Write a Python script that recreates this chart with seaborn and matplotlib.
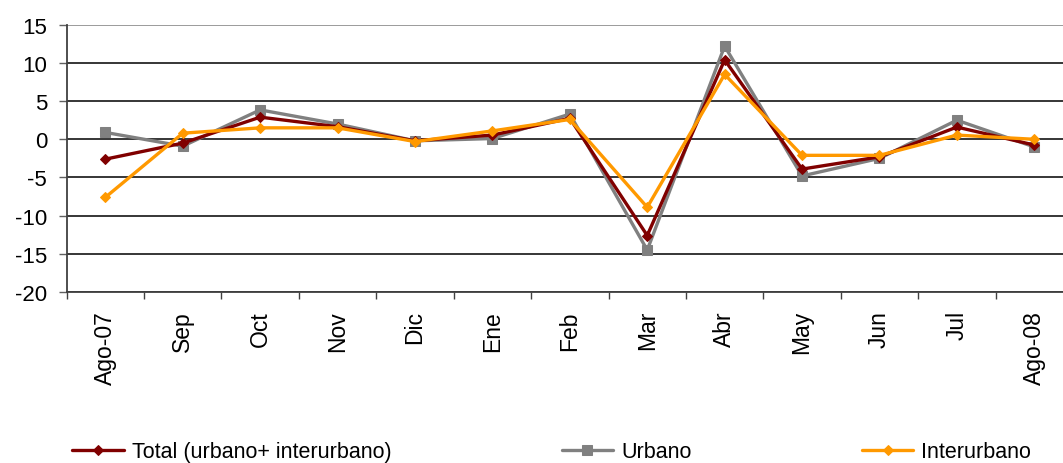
import numpy as np
import pandas as pd
import matplotlib
matplotlib.use("Agg")
import matplotlib.pyplot as plt
import seaborn as sns
from matplotlib.ticker import FixedLocator

months = ["Ago-07", "Sep", "Oct", "Nov", "Dic", "Ene", "Feb",
          "Mar", "Abr", "May", "Jun", "Jul", "Ago-08"]
total = [-2.6, -0.5, 2.9, 1.65, -0.2, 0.55, 2.75, -12.6, 10.4, -3.9, -2.3, 1.6, -0.75]
urbano = [0.9, -0.9, 3.85, 2.0, -0.2, 0.1, 3.3, -14.5, 12.2, -4.8, -2.5, 2.5, -1.0]
interurbano = [-7.6, 0.8, 1.5, 1.5, -0.3, 1.1, 2.6, -8.9, 8.5, -2.1, -2.1, 0.55, 0.0]
y_ticks = [15, 10, 5, 0, -5, -10, -15, -20]

sns.set_style("white")
plt.rcParams["font.family"] = ["Liberation Sans", "DejaVu Sans"]
plt.rcParams["axes.unicode_minus"] = False
plt.rcParams["text.color"] = "black"
plt.rcParams["xtick.color"] = "black"
plt.rcParams["ytick.color"] = "black"

fig = plt.figure(figsize=(10.63, 4.64), dpi=100)
ax = fig.add_axes([0.0627, 0.3685, 0.9467, 0.576])

x = np.arange(len(months))
series = [
    ("Urbano", urbano, "#808080", "s", 6.5),
    ("Total (urbano+ interurbano)", total, "#800000", "D", 5),
    ("Interurbano", interurbano, "#FF9900", "D", 5),
]
handles = {}
for name, vals, color, marker, ms in series:
    sns.lineplot(x=x, y=vals, ax=ax, color=color, marker=marker, markersize=ms,
                 markeredgecolor=color, linewidth=2.4, label=name, sort=False)
    handles[name] = ax.get_lines()[-1]

ax.get_legend().remove()

# grid lines
for yv in y_ticks:
    ax.axhline(yv, color="#808080" if yv == 15 else "black", linewidth=1.1, zorder=0)

ax.set_xlim(-0.5, len(months) - 0.5)
ax.set_ylim(-20, 15)
ax.set_yticks(y_ticks)
ax.set_xticks(x)
ax.set_xticklabels(months, rotation=90, fontsize=16.5)
ax.xaxis.set_minor_locator(FixedLocator(np.arange(len(months)) - 0.5))
ax.tick_params(axis="x", which="major", length=0, pad=13)
ax.tick_params(axis="x", which="minor", length=5, width=1, color="#404040", direction="out", bottom=True)
ax.tick_params(axis="y", labelsize=16, length=6, width=1, color="#606060", left=True, pad=8)
ax.set_xlabel("")
ax.set_ylabel("")

for side in ["top", "right"]:
    ax.spines[side].set_visible(False)
ax.spines["left"].set_color("#404040")
ax.spines["left"].set_linewidth(1.3)
ax.spines["bottom"].set_color("#404040")
ax.spines["bottom"].set_linewidth(1.3)

order = ["Total (urbano+ interurbano)", "Urbano", "Interurbano"]
fig.legend([handles[n] for n in order], order, loc="center left",
           bbox_to_anchor=(0.068, 1 - 453 / 464), ncol=3, frameon=False,
           fontsize=15.5, handlelength=2.4, handletextpad=0.37, columnspacing=7.9,
           borderpad=0, borderaxespad=0)

fig.savefig("out.png", dpi=100)
